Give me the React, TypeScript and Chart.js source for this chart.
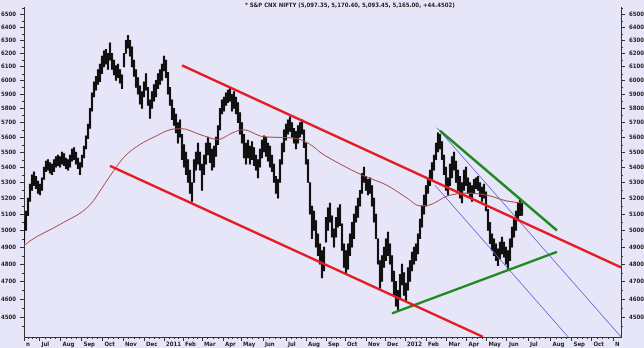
import React, { useEffect, useRef } from 'react';
import { Chart, registerables } from 'chart.js';

Chart.register(...registerables);

const TITLE = '* S&P CNX NIFTY (5,097.35, 5,170.40, 5,093.45, 5,165.00, +44.4502)';

// x axis: trading-day index; month starts and their labels
const monthDays = [0, 15.5, 36.5, 57.5, 78.5, 99, 120, 140, 159, 178, 199, 217, 239, 262, 282, 302, 321, 342, 361, 381, 402, 422.5, 442.5, 462.5, 483, 504, 526.5, 547.5, 567.5, 589];
const monthLabels = ['n', 'Jul', 'Aug', 'Sep', 'Oct', 'Nov', 'Dec', '2011', 'Feb', 'Mar', 'Apr', 'May', 'Jun', 'Jul', 'Aug', 'Sep', 'Oct', 'Nov', 'Dec', '2012', 'Feb', 'Mar', 'Apr', 'May', 'Jun', 'Jul', 'Aug', 'Sep', 'Oct', 'N'];

// y axis tick values (log scale)
const yTicks = [4500, 4600, 4700, 4800, 4900, 5000, 5100, 5200, 5300, 5400, 5500, 5600, 5700, 5800, 5900, 6000, 6100, 6200, 6300, 6400, 6500];

// price bars, one every 2 trading days (low / high)
const barLows = [
  4930, 5000, 5090, 5180, 5250, 5280, 5260, 5230, 5220, 5250,
  5320, 5370, 5380, 5360, 5350, 5370, 5400, 5410, 5400, 5420,
  5410, 5390, 5380, 5400, 5440, 5450, 5420, 5390, 5350, 5400,
  5460, 5520, 5590, 5660, 5780, 5880, 5930, 5970, 5990, 6050,
  6100, 6120, 6080, 6150, 6080, 6040, 6000, 6020, 5980, 5940,
  6100, 6200, 6240, 6180, 6100, 6030, 5950, 5900, 5830, 5800,
  5880, 5930, 5820, 5730, 5800, 5850, 5880, 5940, 5970, 6000,
  6070, 6020, 5900, 5820, 5720, 5680, 5630, 5560, 5600, 5450,
  5400, 5350, 5300, 5230, 5180, 5300, 5380, 5420, 5380, 5250,
  5350, 5420, 5480, 5430, 5380, 5400, 5470, 5550, 5650, 5760,
  5780, 5820, 5840, 5850, 5780, 5800, 5760, 5700, 5620, 5560,
  5460, 5420, 5460, 5420, 5450, 5410, 5380, 5330, 5400, 5460,
  5500, 5470, 5440, 5400, 5370, 5300, 5230, 5200, 5300, 5420,
  5500, 5580, 5620, 5640, 5600, 5560, 5520, 5560, 5600, 5620,
  5530, 5420, 5300, 5100, 4950, 5000, 4900, 4850, 4800, 4720,
  4760, 4930, 5000, 5050, 4960, 4900, 4960, 5020, 5030, 4880,
  4780, 4750, 4770, 4850, 4900, 4950, 5050, 5080, 5150, 5230,
  5300, 5250, 5220, 5230, 5150, 5050, 4950, 4800, 4660, 4700,
  4780, 4820, 4850, 4800, 4700, 4620, 4560, 4530, 4600, 4680,
  4620, 4590, 4650, 4700, 4760, 4800, 4820, 4860, 4950, 5020,
  5100, 5150, 5230, 5280, 5320, 5380, 5450, 5500, 5520, 5450,
  5350, 5250, 5220, 5280, 5330, 5380, 5300, 5250, 5200, 5170,
  5250, 5280, 5230, 5200, 5180, 5230, 5260, 5250, 5210, 5180,
  5200, 5120, 5000, 4920, 4880, 4850, 4820, 4790, 4830, 4860,
  4840, 4800, 4770, 4820, 4900, 4960, 5000, 5060, 5090, 5093,
];
const barHighs = [
  5060, 5120, 5200, 5290, 5350, 5370, 5340, 5310, 5290, 5330,
  5400, 5440, 5450, 5430, 5420, 5450, 5470, 5480, 5470, 5500,
  5490, 5460, 5450, 5480, 5520, 5530, 5500, 5460, 5430, 5480,
  5540, 5610, 5690, 5800, 5910, 5990, 6030, 6080, 6120, 6180,
  6220, 6230, 6200, 6280, 6200, 6150, 6110, 6120, 6080, 6040,
  6200, 6300, 6338, 6300, 6250, 6150, 6080, 6020, 5960, 5920,
  5990, 6050, 5950, 5860, 5920, 5970, 6000, 6050, 6080, 6120,
  6180, 6150, 6060, 5950, 5860, 5800, 5760, 5700, 5720, 5620,
  5550, 5500, 5450, 5380, 5300, 5450, 5500, 5560, 5500, 5420,
  5480, 5560, 5600, 5560, 5520, 5540, 5600, 5680, 5800, 5860,
  5880, 5910, 5930, 5944, 5900, 5920, 5880, 5840, 5770, 5700,
  5620, 5560, 5580, 5540, 5570, 5530, 5480, 5450, 5520, 5580,
  5610, 5600, 5560, 5540, 5480, 5420, 5340, 5320, 5450, 5560,
  5650, 5690, 5720, 5740, 5700, 5660, 5640, 5680, 5700, 5720,
  5650, 5560, 5450, 5300, 5150, 5120, 5060, 4980, 4920, 4880,
  4900, 5080, 5140, 5170, 5090, 5010, 5080, 5140, 5160, 5040,
  4920, 4880, 4920, 4980, 5050, 5100, 5150, 5200, 5250, 5360,
  5400, 5340, 5320, 5330, 5280, 5200, 5100, 4950, 4820, 4850,
  4900, 4950, 4990, 4920, 4850, 4760, 4700, 4650, 4740, 4800,
  4750, 4690, 4780, 4820, 4870, 4900, 4920, 4980, 5070, 5150,
  5220, 5280, 5330, 5380, 5430, 5480, 5560, 5630, 5620, 5570,
  5480, 5400, 5330, 5420, 5470, 5500, 5440, 5380, 5340, 5300,
  5380, 5400, 5330, 5300, 5280, 5320, 5330, 5340, 5300, 5270,
  5290, 5240, 5130, 5050, 4980, 4950, 4920, 4890, 4930, 4960,
  4930, 4900, 4880, 4950, 5020, 5080, 5120, 5170, 5190, 5170,
];
const BAR_STEP = 2; // trading days between recorded bars

// moving average line (day index, value)
const maDays = [0, 6, 36, 66, 81, 91, 101, 116, 131, 146, 158, 176, 194, 209, 219, 239, 259, 276, 289, 296, 316, 339, 363, 383, 396, 406, 423, 443, 463, 483, 498];
const maValues = [4907, 4937, 5037, 5158, 5294, 5389, 5473, 5551, 5604, 5651, 5658, 5618, 5585, 5631, 5651, 5604, 5598, 5585, 5538, 5499, 5421, 5345, 5282, 5201, 5152, 5158, 5213, 5232, 5219, 5182, 5170];

// trend lines: [day, value] end points
const redUpper = [[158, 6111], [597, 4781]];
const redLower = [[86, 5408], [459, 4394]];
const greenUpper = [[416, 5644], [533, 5000]];
const greenLower = [[368, 4521], [533, 4872]];
const blueUpper = [[413, 5665], [597, 4394]];
const blueLower = [[411, 5282], [544, 4394]];

const BG = '#e6e6f8';
const AXIS = '#333333';
const FONT_FAMILY = '"Liberation Sans Narrow", "DejaVu Sans Condensed", "Liberation Sans", Arial, sans-serif';

const toPts = (pairs: number[][]) => pairs.map(([x, y]) => ({ x, y }));

const decorPlugin = {
  id: 'decor',
  beforeDraw(chart: any) {
    const { ctx, width, height } = chart;
    ctx.save();
    ctx.fillStyle = BG;
    ctx.fillRect(0, 0, width, height);
    ctx.restore();
  },
  afterDraw(chart: any) {
    const { ctx, chartArea } = chart;
    const xs = chart.scales.x;
    const ys = chart.scales.y;
    ctx.save();
    ctx.strokeStyle = AXIS;
    ctx.lineWidth = 1;
    ctx.beginPath();
    for (let i = 0; i < monthDays.length - 1; i++) {
      const a = monthDays[i];
      const b = monthDays[i + 1];
      for (let k = 1; k < 4; k++) {
        const px = Math.round(xs.getPixelForValue(a + ((b - a) * k) / 4)) + 0.5;
        ctx.moveTo(px, chartArea.bottom);
        ctx.lineTo(px, chartArea.bottom + 2);
      }
    }
    const minors = [yTicks[0] - 50, ...yTicks.map((v) => v + 50)];
    for (const m of minors) {
      if (m < ys.min || m > ys.max) continue;
      const py = Math.round(ys.getPixelForValue(m)) + 0.5;
      ctx.moveTo(chartArea.left - 2, py);
      ctx.lineTo(chartArea.left, py);
      ctx.moveTo(chartArea.right, py);
      ctx.lineTo(chartArea.right + 2, py);
    }
    ctx.stroke();
    ctx.fillStyle = '#222';
    ctx.font = `bold 6px ${FONT_FAMILY}`;
    ctx.textBaseline = 'top';
    ctx.textAlign = 'left';
    ctx.fillText(TITLE, 245, 2.5);
    ctx.restore();
  },
};

export default function App() {
  const ref = useRef<HTMLCanvasElement | null>(null);

  useEffect(() => {
    document.body.style.margin = '0';
    const canvas = ref.current;
    if (!canvas) return;

    const bars = barLows.map((lo, i) => ({ x: i * BAR_STEP, y: [lo, barHighs[i]] }));
    const ma = maDays.map((d, i) => ({ x: d, y: maValues[i] }));

    const tickFont = { family: FONT_FAMILY, size: 6, weight: 'bold' as const };

    const lineDs = (pairs: number[][], color: string, width: number) => ({
      type: 'line' as const,
      data: toPts(pairs),
      borderColor: color,
      borderWidth: width,
      pointRadius: 0,
      fill: false,
      order: 0,
    });

    const yScale = (position: 'left' | 'right', w: number) => ({
      type: 'logarithmic' as const,
      position,
      min: 4393,
      max: 6555,
      afterBuildTicks: (s: any) => {
        s.ticks = yTicks.map((v) => ({ value: v }));
      },
      afterFit: (s: any) => {
        s.width = w;
      },
      grid: { display: true, drawOnChartArea: false, drawTicks: true, tickLength: 4, color: AXIS },
      border: { display: true, color: AXIS, width: 1 },
      ticks: {
        autoSkip: false,
        padding: 4,
        color: '#222',
        font: tickFont,
        callback: (v: any) => String(v),
      },
    });

    const chart = new Chart(canvas, {
      type: 'bar',
      data: {
        datasets: [
          lineDs(redUpper, '#e51b23', 2.5),
          lineDs(redLower, '#e51b23', 2.5),
          lineDs(greenUpper, '#1e8a1e', 2.5),
          lineDs(greenLower, '#1e8a1e', 2.5),
          lineDs(blueUpper, '#6464d8', 1),
          lineDs(blueLower, '#6464d8', 1),
          {
            type: 'line' as const,
            data: ma,
            borderColor: '#a84844',
            borderWidth: 1,
            pointRadius: 0,
            tension: 0.4,
            cubicInterpolationMode: 'monotone' as const,
            fill: false,
            order: 5,
          },
          {
            type: 'bar' as const,
            data: bars as any,
            backgroundColor: '#111111',
            borderWidth: 0,
            barThickness: 1.5,
            order: 10,
          },
        ],
      } as any,
      options: {
        responsive: false,
        animation: false,
        devicePixelRatio: 1,
        layout: { padding: 0 },
        plugins: { legend: { display: false }, tooltip: { enabled: false }, title: { display: false } },
        scales: {
          x: {
            type: 'linear',
            min: 0,
            max: 597,
            offset: false,
            afterBuildTicks: (s: any) => {
              s.ticks = monthDays.map((v) => ({ value: v }));
            },
            afterFit: (s: any) => {
              s.height = 11;
            },
            grid: { display: true, drawOnChartArea: false, drawTicks: true, tickLength: 4, color: AXIS, offset: false },
            border: { display: true, color: AXIS, width: 1 },
            ticks: {
              autoSkip: false,
              maxRotation: 0,
              minRotation: 0,
              align: 'start',
              labelOffset: 2,
              padding: 0,
              color: '#222',
              font: tickFont,
              callback: (_v: any, i: number) => monthLabels[i],
            },
          },
          y: yScale('left', 24),
          y2: yScale('right', 23),
        },
      } as any,
      plugins: [decorPlugin],
    });

    return () => chart.destroy();
  }, []);

  return (
    <div style={{ width: 644, height: 348 }}>
      <canvas ref={ref} width={644} height={348} style={{ display: 'block', width: 644, height: 348 }} />
    </div>
  );
}
